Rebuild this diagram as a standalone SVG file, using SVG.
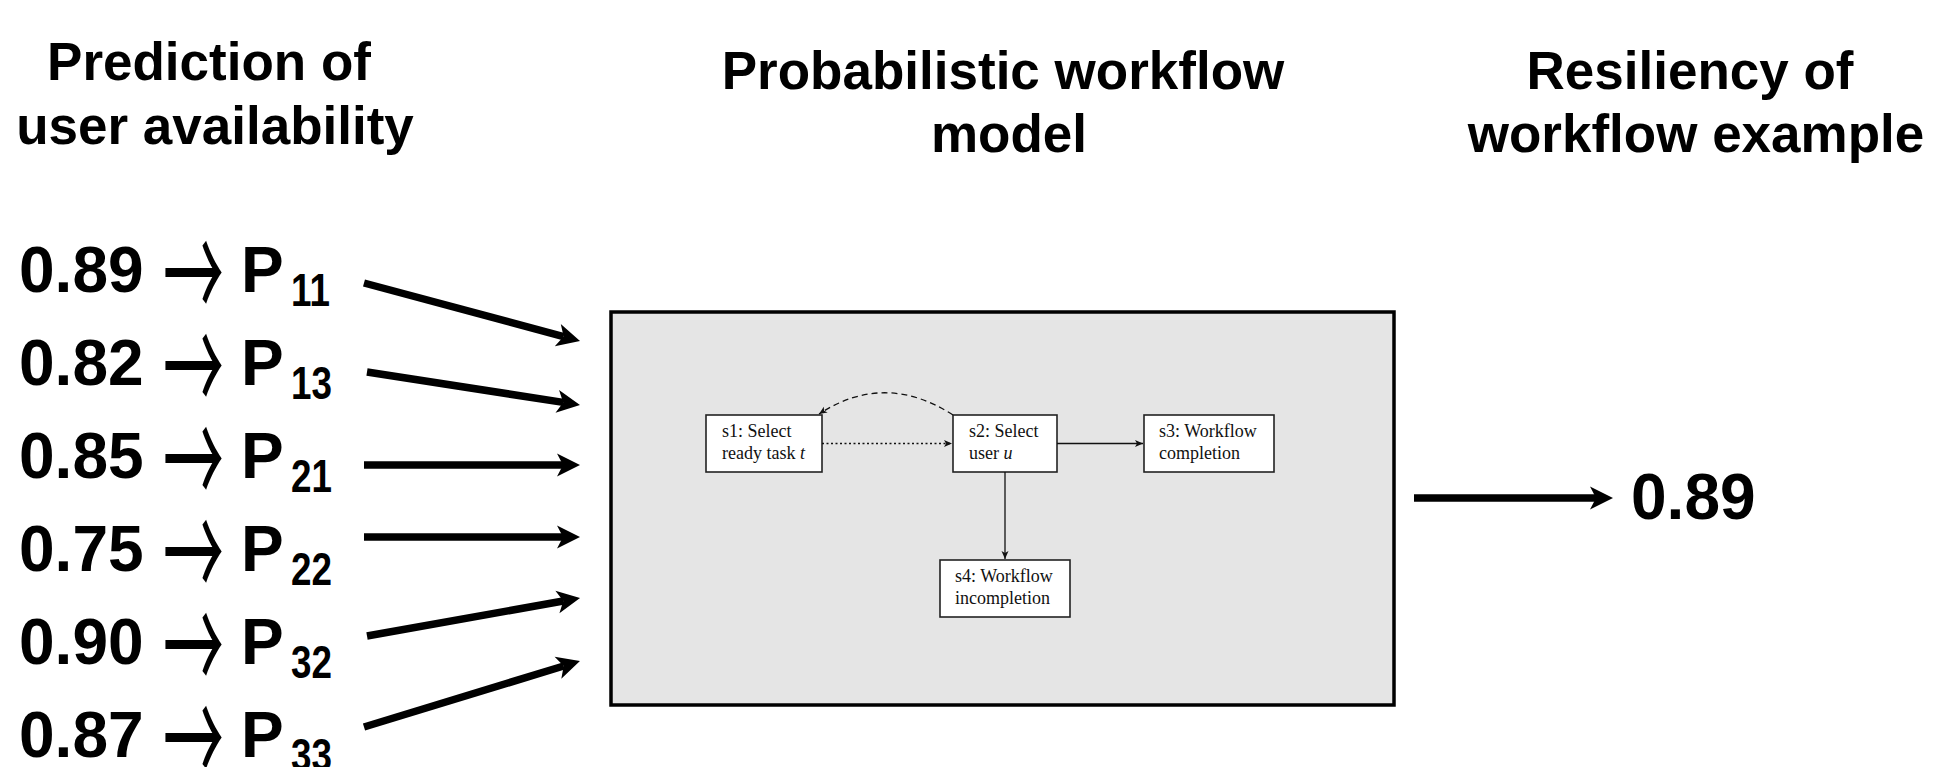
<svg xmlns="http://www.w3.org/2000/svg" width="1936" height="767" viewBox="0 0 1936 767">
  <defs>
    <marker id="bigHead" viewBox="-24 -13 26 26" refX="-17" refY="0" markerWidth="26" markerHeight="26" orient="auto" markerUnits="userSpaceOnUse">
      <path d="M0,0 L-23,-11.5 L-17,0 L-23,11.5 Z" fill="#000"/>
    </marker>
    <marker id="smallHead" viewBox="-9 -5 10 10" refX="0" refY="0" markerWidth="10" markerHeight="10" orient="auto" markerUnits="userSpaceOnUse">
      <path d="M0,0 L-8,-3.5 L-6,0 L-8,3.5 Z" fill="#111"/>
    </marker>
  </defs>
  <style>
    .title { font-family: "Liberation Sans", Arial, sans-serif; font-weight: bold; font-size: 53px; fill: #000; text-anchor: middle; }
    .big { font-family: "Liberation Sans", Arial, sans-serif; font-weight: bold; font-size: 64px; fill: #000; }
    .arr { font-family: "Noto Sans CJK JP", "DejaVu Sans", sans-serif; font-weight: normal; font-size: 64px; fill: #000; }
    .sub { font-family: "Liberation Sans", Arial, sans-serif; font-weight: bold; font-size: 46px; fill: #000; }
    .thick { stroke: #000; stroke-width: 7.5; fill: none; marker-end: url(#bigHead); }
    .panel { fill: #e5e5e5; stroke: #000; stroke-width: 3.5; }
    .node rect { fill: #fff; stroke: #222; stroke-width: 1.6; }
    .node text { font-family: "Liberation Serif", "Times New Roman", serif; font-size: 18px; fill: #111; }
    .thin { stroke: #111; stroke-width: 1.3; fill: none; marker-end: url(#smallHead); }
  </style>
  <rect width="1936" height="767" fill="#fff"/>

  <g id="titles">
    <text class="title" x="209" y="80">Prediction of</text>
    <text class="title" x="215" y="144">user availability</text>
    <text class="title" x="1003" y="89">Probabilistic workflow</text>
    <text class="title" x="1009" y="152">model</text>
    <text class="title" x="1690" y="89">Resiliency of</text>
    <text class="title" x="1696" y="152">workflow example</text>
  </g>

  <g id="inputs">
    <g id="p11">
      <text class="big" y="292"><tspan x="19">0.89</tspan><tspan x="241">P</tspan></text>
      <text class="arr" transform="translate(163,323) scale(0.95,2.1)">→</text>
      <text class="sub" transform="translate(291,306) scale(0.8,1)">11</text>
    </g>
    <g id="p13">
      <text class="big" y="385"><tspan x="19">0.82</tspan><tspan x="241">P</tspan></text>
      <text class="arr" transform="translate(163,416) scale(0.95,2.1)">→</text>
      <text class="sub" transform="translate(291,399) scale(0.8,1)">13</text>
    </g>
    <g id="p21">
      <text class="big" y="478"><tspan x="19">0.85</tspan><tspan x="241">P</tspan></text>
      <text class="arr" transform="translate(163,509) scale(0.95,2.1)">→</text>
      <text class="sub" transform="translate(291,492) scale(0.8,1)">21</text>
    </g>
    <g id="p22">
      <text class="big" y="571"><tspan x="19">0.75</tspan><tspan x="241">P</tspan></text>
      <text class="arr" transform="translate(163,602) scale(0.95,2.1)">→</text>
      <text class="sub" transform="translate(291,585) scale(0.8,1)">22</text>
    </g>
    <g id="p32">
      <text class="big" y="664"><tspan x="19">0.90</tspan><tspan x="241">P</tspan></text>
      <text class="arr" transform="translate(163,695) scale(0.95,2.1)">→</text>
      <text class="sub" transform="translate(291,678) scale(0.8,1)">32</text>
    </g>
    <g id="p33">
      <text class="big" y="757"><tspan x="19">0.87</tspan><tspan x="241">P</tspan></text>
      <text class="arr" transform="translate(163,788) scale(0.95,2.1)">→</text>
      <text class="sub" transform="translate(291,771) scale(0.8,1)">33</text>
    </g>
  </g>

  <g id="model">
    <rect class="panel" x="611" y="312" width="783" height="393"/>
    <g id="s1" class="node">
      <rect x="706" y="415" width="116" height="57"/>
      <text x="722" y="437">s1: Select</text>
      <text x="722" y="459">ready task <tspan font-style="italic">t</tspan></text>
    </g>
    <g id="s2" class="node">
      <rect x="953" y="415" width="104" height="57"/>
      <text x="969" y="437">s2: Select</text>
      <text x="969" y="459">user <tspan font-style="italic">u</tspan></text>
    </g>
    <g id="s3" class="node">
      <rect x="1144" y="415" width="130" height="57"/>
      <text x="1159" y="437">s3: Workflow</text>
      <text x="1159" y="459">completion</text>
    </g>
    <g id="s4" class="node">
      <rect x="940" y="560" width="130" height="57"/>
      <text x="955" y="582">s4: Workflow</text>
      <text x="955" y="604">incompletion</text>
    </g>
  </g>

  <g id="result">
    <text class="big" x="1631" y="519">0.89</text>
  </g>

  <g id="connectors">
    <line class="thick" x1="364" y1="283" x2="563.6" y2="336.6"/>
    <line class="thick" x1="367" y1="372" x2="563.2" y2="402.4"/>
    <line class="thick" x1="364" y1="465" x2="563" y2="465"/>
    <line class="thick" x1="364" y1="537" x2="563" y2="537"/>
    <line class="thick" x1="367" y1="636" x2="563.3" y2="601"/>
    <line class="thick" x1="364" y1="727" x2="563.7" y2="666"/>
    <line class="thick" x1="1414" y1="498" x2="1596" y2="498"/>
    <line class="thin" x1="822" y1="443.5" x2="952" y2="443.5" stroke-dasharray="2,2.5"/>
    <line class="thin" x1="1057" y1="443.5" x2="1143" y2="443.5"/>
    <line class="thin" x1="1005" y1="472" x2="1005" y2="559"/>
    <path class="thin" d="M953,415 Q885,371 819,414" stroke-dasharray="6,4"/>
  </g>
</svg>
